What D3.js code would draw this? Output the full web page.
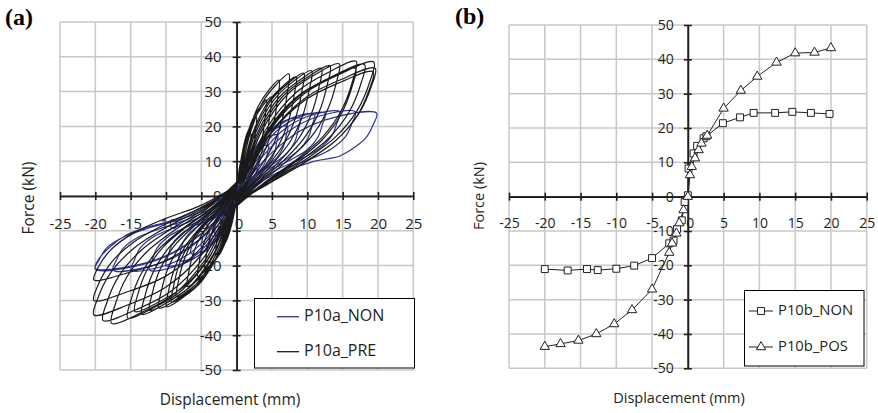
<!DOCTYPE html>
<html><head><meta charset="utf-8">
<script src="https://cdn.jsdelivr.net/npm/d3@7"></script>
<style>
body{margin:0;background:#fff}
svg{display:block}
text{font-family:"Open Sans",sans-serif;fill:#231f20}
</style>
</head><body>
<svg id="c" width="878" height="413"></svg>
<script>
// ---------- shared axis values ----------
const xTicks = [-25,-20,-15,-10,-5,0,5,10,15,20,25];
const yTicks = [-50,-40,-30,-20,-10,0,10,20,30,40,50];

// ---------- panel (a): hysteresis loops ----------
const seriesA = ["P10a_NON","P10a_PRE"];
// force (kN) where each cycle crosses zero displacement (loading up / loading down)
const pivUpNON = [0.5,0.8,1,1.2,1.5,1.5,1.8,2,2,2.2,2.2,2.5];
const pivDnNON = [-0.2,-0.4,-0.5,-0.6,-0.8,-1,-1,-1.2,-1.2,-1.4,-1.4,-1.5];
const pivUpPRE = [1,1.5,2,2,2.5,2.5,3,3,3,3.5,3.5,3.5,4,3.5,3.5,4,3.5,3,3];
const pivDnPRE = [0,-0.5,-0.5,-1,-1,-1.5,-1.5,-2,-2,-2,-2.5,-2.5,-2.5,-3,-2.5,-3,-2.5,-2,-2];
// each cycle: positive leaf (p: loading then unloading) and negative leaf (n)
const cyclesNON = [
 {p:[[.12,1.3],[.3,2.6],[.54,3.9],[.84,4.8],[1.2,5],[1.16,4.3],[1.1,3.6],[.96,2.8],[.74,2.2],[.48,1.6],[.26,.9]],
  n:[[-.12,-1.1],[-.3,-2.3],[-.54,-3.5],[-.84,-4.3],[-1.2,-4.5],[-1.16,-3.9],[-1.1,-3.2],[-.96,-2.5],[-.74,-2],[-.48,-1.4],[-.26,-.8]]},
 {p:[[.22,2.1],[.55,4.4],[.99,6.6],[1.54,8.1],[2.2,8.5],[2.13,7.3],[2.02,6],[1.76,4.8],[1.36,3.7],[.88,2.7],[.48,1.5]],
  n:[[-.23,-2],[-.58,-4.2],[-1.04,-6.2],[-1.61,-7.6],[-2.3,-8],[-2.23,-6.9],[-2.12,-5.7],[-1.84,-4.5],[-1.43,-3.5],[-.92,-2.6],[-.51,-1.4]]},
 {p:[[.33,2.9],[.83,6],[1.49,9],[2.31,10.9],[3.3,11.5],[3.2,9.9],[3.04,8.2],[2.64,6.4],[2.05,5.1],[1.32,3.7],[.73,2.1]],
  n:[[-.35,-2.9],[-.88,-6],[-1.58,-9],[-2.45,-10.9],[-3.5,-11.5],[-3.4,-9.9],[-3.22,-8.2],[-2.8,-6.4],[-2.17,-5.1],[-1.4,-3.7],[-.77,-2.1]]},
 {p:[[.45,3.6],[1.13,7.5],[2.03,11.3],[3.15,13.8],[4.5,14.5],[4.37,12.5],[4.14,10.3],[3.6,8.1],[2.79,6.4],[1.8,4.6],[.99,2.6]],
  n:[[-.5,-3.6],[-1.25,-7.5],[-2.25,-11.3],[-3.5,-13.8],[-5,-14.5],[-4.85,-12.5],[-4.6,-10.3],[-4,-8.1],[-3.1,-6.4],[-2,-4.6],[-1.1,-2.6]]},
 {p:[[.58,4.4],[1.45,9.1],[2.61,13.7],[4.06,16.6],[5.8,17.5],[5.63,15.1],[5.34,12.4],[4.64,9.8],[3.6,7.7],[2.32,5.6],[1.28,3.2]],
  n:[[-.65,-4.1],[-1.63,-8.6],[-2.93,-12.9],[-4.55,-15.7],[-6.5,-16.5],[-6.31,-14.2],[-5.98,-11.7],[-5.2,-9.2],[-4.03,-7.3],[-2.6,-5.3],[-1.43,-3]]},
 {p:[[.72,5],[1.8,10.4],[3.24,15.6],[5.04,19],[7.2,20],[6.98,17.2],[6.62,14.2],[5.76,11.2],[4.46,8.8],[2.88,6.4],[1.58,3.6]],
  n:[[-.82,-4.6],[-2.05,-9.6],[-3.69,-14.4],[-5.74,-17.6],[-8.2,-18.5],[-7.95,-15.9],[-7.54,-13.1],[-6.56,-10.4],[-5.08,-8.1],[-3.28,-5.9],[-1.8,-3.3]]},
 {p:[[.9,5.6],[2.25,11.6],[4.05,17.4],[6.3,21.2],[9,22.3],[8.73,19.2],[8.28,15.8],[7.2,12.5],[5.58,9.8],[3.6,7.1],[1.98,4]],
  n:[[-1,-5],[-2.5,-10.4],[-4.5,-15.6],[-7,-19],[-10,-20],[-9.7,-17.2],[-9.2,-14.2],[-8,-11.2],[-6.2,-8.8],[-4,-6.4],[-2.2,-3.6]]},
 {p:[[1.1,5.9],[2.75,12.2],[4.95,18.3],[7.7,22.3],[11,23.5],[10.67,20.2],[10.12,16.7],[8.8,13.2],[6.82,10.3],[4.4,7.5],[2.42,4.2]],
  n:[[-1.23,-5.3],[-3.08,-11.1],[-5.54,-16.6],[-8.61,-20.2],[-12.3,-21.3],[-11.93,-18.3],[-11.32,-15.1],[-9.84,-11.9],[-7.63,-9.4],[-4.92,-6.8],[-2.71,-3.8]]},
 {p:[[1.25,6],[3.13,12.4],[5.63,18.6],[8.75,22.6],[12.5,23.8],[12.13,20.5],[11.5,16.9],[10,13.3],[7.75,10.5],[5,7.6],[2.75,4.3]],
  n:[[-1.49,-5.3],[-3.73,-11.1],[-6.71,-16.6],[-10.43,-20.2],[-14.9,-21.3],[-14.45,-18.3],[-13.71,-15.1],[-11.92,-11.9],[-9.24,-9.4],[-5.96,-6.8],[-3.28,-3.8]]},
 {p:[[1.46,6.1],[3.65,12.6],[6.57,18.9],[10.22,23],[14.6,24.2],[14.16,20.8],[13.43,17.2],[11.68,13.6],[9.05,10.6],[5.84,7.7],[3.21,4.4]],
  n:[[-1.75,-5.3],[-4.38,-11.1],[-7.88,-16.6],[-12.25,-20.2],[-17.5,-21.3],[-16.98,-18.3],[-16.1,-15.1],[-14,-11.9],[-10.85,-9.4],[-7,-6.8],[-3.85,-3.8]]},
 {p:[[1.68,6.1],[4.2,12.6],[7.56,18.9],[11.76,23],[16.8,24.2],[16.3,20.8],[15.46,17.2],[13.44,13.6],[10.42,10.6],[6.72,7.7],[3.7,4.4]],
  n:[[-2,-5.3],[-5,-10.9],[-9,-16.4],[-14,-20],[-20,-21],[-19.4,-18.1],[-18.4,-14.9],[-16,-11.8],[-12.4,-9.2],[-8,-6.7],[-4.4,-3.8]]},
 {p:[[1.98,6],[4.95,12.4],[8.91,18.6],[13.86,22.6],[19.8,23.8],[19.3,20.4],[18.4,17],[16.5,13.7],[14.6,11.5],[13.2,10.8],[10.8,9.9],[7.5,7.5],[5.2,5.1],[3.3,2.7]],
  n:[[-2,-5.2],[-5,-10.8],[-9,-16.2],[-14,-19.8],[-20,-20.8],[-19.6,-18.4],[-17.9,-14.6],[-15.6,-11.2],[-13.2,-9.3],[-10.4,-7.8],[-7.5,-5.9],[-4.7,-3.1]]}
];
const cyclesPRE = [
 {p:[[.1,2.6],[.25,6],[.5,9.2],[.75,10.9],[1,12],[.97,10.2],[.88,7.7],[.72,5.3],[.5,3.2],[.25,1.3]],
  n:[[-.1,-1.8],[-.25,-4],[-.5,-6.2],[-.75,-7.3],[-1,-8],[-.97,-6.8],[-.88,-5.1],[-.72,-3.5],[-.5,-2.2],[-.25,-.9]]},
 {p:[[.2,4],[.5,9],[1,13.9],[1.5,16.4],[2,18],[1.94,15.3],[1.76,11.5],[1.44,7.9],[1,4.9],[.5,2]],
  n:[[-.2,-2.9],[-.5,-6.5],[-1,-10],[-1.5,-11.8],[-2,-13],[-1.94,-11.1],[-1.76,-8.3],[-1.44,-5.7],[-1,-3.5],[-.5,-1.4]]},
 {p:[[.28,5],[.7,11.4],[1.4,17.6],[2.1,20.7],[2.8,22.8],[2.72,19.4],[2.46,14.6],[2.02,10],[1.4,6.2],[.7,2.5]],
  n:[[-.3,-3.7],[-.75,-8.5],[-1.5,-13.1],[-2.25,-15.5],[-3,-17],[-2.91,-14.5],[-2.64,-10.9],[-2.16,-7.5],[-1.5,-4.6],[-.75,-1.9]]},
 {p:[[.42,6.1],[1.05,13.8],[2.1,21.3],[3.15,25.1],[4.2,27.6],[4.07,23.5],[3.7,17.7],[3.02,12.1],[2.1,7.5],[1.05,3]],
  n:[[-.45,-4.6],[-1.13,-10.5],[-2.25,-16.2],[-3.38,-19.1],[-4.5,-21],[-4.37,-17.9],[-3.96,-13.4],[-3.24,-9.2],[-2.25,-5.7],[-1.13,-2.3]]},
 {p:[[.49,6.3],[1.23,14.3],[2.45,21.9],[3.68,25.9],[4.9,28.5],[4.75,24.2],[4.31,18.2],[3.53,12.5],[2.45,7.7],[1.23,3.1]],
  n:[[-.55,-5.1],[-1.38,-11.5],[-2.75,-17.7],[-4.13,-20.9],[-5.5,-23],[-5.34,-19.6],[-4.84,-14.7],[-3.96,-10.1],[-2.75,-6.2],[-1.38,-2.5]]},
 {p:[[.6,7.3],[1.5,16.7],[3,25.6],[4.5,30.3],[6,33.3],[5.82,28.3],[5.28,21.3],[4.32,14.7],[3,9],[1.5,3.7]],
  n:[[-.7,-5.7],[-1.75,-13],[-3.5,-20],[-5.25,-23.7],[-7,-26],[-6.79,-22.1],[-6.16,-16.6],[-5.04,-11.4],[-3.5,-7],[-1.75,-2.9]]},
 {p:[[.74,7.7],[1.85,17.6],[3.7,27],[5.55,31.9],[7.4,35.1],[7.18,29.8],[6.51,22.5],[5.33,15.4],[3.7,9.5],[1.85,3.9]],
  n:[[-.85,-6.4],[-2.13,-14.5],[-4.25,-22.3],[-6.38,-26.4],[-8.5,-29],[-8.25,-24.7],[-7.48,-18.6],[-6.12,-12.8],[-4.25,-7.8],[-2.13,-3.2]]},
 {p:[[.84,7.5],[2.1,17.1],[4.2,26.3],[6.3,31.1],[8.4,34.2],[8.15,29.1],[7.39,21.9],[6.05,15],[4.2,9.2],[2.1,3.8]],
  n:[[-.92,-6.7],[-2.3,-15.3],[-4.6,-23.5],[-6.9,-27.8],[-9.2,-30.5],[-8.92,-25.9],[-8.1,-19.5],[-6.62,-13.4],[-4.6,-8.2],[-2.3,-3.4]]},
 {p:[[.95,7.8],[2.38,17.7],[4.75,27.2],[7.13,32.1],[9.5,35.3],[9.22,30],[8.36,22.6],[6.84,15.5],[4.75,9.5],[2.38,3.9]],
  n:[[-.99,-7],[-2.48,-15.9],[-4.95,-24.5],[-7.43,-28.9],[-9.9,-31.8],[-9.6,-27],[-8.71,-20.4],[-7.13,-14],[-4.95,-8.6],[-2.48,-3.5]]},
 {p:[[1.06,7.9],[2.65,18],[5.3,27.7],[7.95,32.8],[10.6,36],[10.28,30.6],[9.33,23],[7.63,15.8],[5.3,9.7],[2.65,4]],
  n:[[-1.1,-7.1],[-2.75,-16.1],[-5.5,-24.8],[-8.25,-29.3],[-11,-32.2],[-10.67,-27.4],[-9.68,-20.6],[-7.92,-14.2],[-5.5,-8.7],[-2.75,-3.5]]},
 {p:[[1.2,8.1],[3,18.4],[6,28.3],[9,33.4],[12,36.7],[11.64,31.2],[10.56,23.5],[8.64,16.1],[6,9.9],[3,4]],
  n:[[-1.23,-7.2],[-3.08,-16.4],[-6.15,-25.3],[-9.23,-29.8],[-12.3,-32.8],[-11.93,-27.9],[-10.82,-21],[-8.86,-14.4],[-6.15,-8.9],[-3.08,-3.6]]},
 {p:[[1.32,8.2],[3.3,18.7],[6.6,28.8],[9.9,34],[13.2,37.4],[12.8,31.8],[11.62,23.9],[9.5,16.5],[6.6,10.1],[3.3,4.1]],
  n:[[-1.34,-7.5],[-3.35,-17],[-6.7,-26.2],[-10.05,-30.9],[-13.4,-34],[-13,-28.9],[-11.79,-21.8],[-9.65,-15],[-6.7,-9.2],[-3.35,-3.7]]},
 {p:[[1.45,8.4],[3.63,19],[7.25,29.3],[10.88,34.6],[14.5,38],[14.07,32.3],[12.76,24.3],[10.44,16.7],[7.25,10.3],[3.63,4.2]],
  n:[[-1.44,-7.3],[-3.6,-16.6],[-7.2,-25.6],[-10.8,-30.2],[-14.4,-33.2],[-13.97,-28.2],[-12.67,-21.2],[-10.37,-14.6],[-7.2,-9],[-3.6,-3.7]]},
 {p:[[1.69,8.5],[4.23,19.4],[8.45,29.8],[12.68,35.2],[16.9,38.7],[16.39,32.9],[14.87,24.8],[12.17,17],[8.45,10.4],[4.23,4.3]],
  n:[[-1.54,-7.7],[-3.85,-17.6],[-7.7,-27],[-11.55,-31.9],[-15.4,-35.1],[-14.94,-29.8],[-13.55,-22.5],[-11.09,-15.4],[-7.7,-9.5],[-3.85,-3.9]]},
 {p:[[1.68,8.1],[4.2,18.4],[8.4,28.3],[12.6,33.4],[16.8,36.7],[16.3,31.2],[14.78,23.5],[12.1,16.1],[8.4,9.9],[4.2,4]],
  n:[[-1.77,-8.1],[-4.43,-18.3],[-8.85,-28.2],[-13.28,-33.3],[-17.7,-36.6],[-17.17,-31.1],[-15.58,-23.4],[-12.74,-16.1],[-8.85,-9.9],[-4.43,-4]]},
 {p:[[1.81,8.3],[4.53,18.9],[9.05,29.1],[13.58,34.4],[18.1,37.8],[17.56,32.1],[15.93,24.2],[13.03,16.6],[9.05,10.2],[4.53,4.2]],
  n:[[-1.89,-7.9],[-4.73,-17.9],[-9.45,-27.6],[-14.18,-32.6],[-18.9,-35.8],[-18.33,-30.4],[-16.63,-22.9],[-13.61,-15.8],[-9.45,-9.7],[-4.73,-3.9]]},
 {p:[[1.94,8.5],[4.85,19.3],[9.7,29.6],[14.55,35],[19.4,38.5],[18.82,32.7],[17.07,24.6],[13.97,16.9],[9.7,10.4],[4.85,4.2]],
  n:[[-2.02,-7.5],[-5.05,-17.1],[-10.1,-26.3],[-15.15,-31.1],[-20.2,-34.2],[-19.59,-29.1],[-17.78,-21.9],[-14.54,-15],[-10.1,-9.2],[-5.05,-3.8]]},
 {p:[[1.96,8.1],[4.9,18.4],[9.8,28.3],[14.7,33.4],[19.6,36.7],[19.01,31.2],[17.25,23.5],[14.11,16.1],[9.8,9.9],[4.9,4]],
  n:[[-2.02,-6.6],[-5.05,-15],[-10.1,-23.1],[-15.15,-27.3],[-20.2,-30],[-19.59,-25.5],[-17.78,-19.2],[-14.54,-13.2],[-10.1,-8.1],[-5.05,-3.3]]},
 {p:[[1.93,7.9],[4.83,17.9],[9.65,27.5],[14.48,32.5],[19.3,35.7],[18.72,30.3],[16.98,22.8],[13.9,15.7],[9.65,9.6],[4.83,3.9]],
  n:[[-2.02,-5.3],[-5.05,-12.1],[-10.1,-18.6],[-15.15,-21.9],[-20.2,-24.1],[-19.59,-20.5],[-17.78,-15.4],[-14.54,-10.6],[-10.1,-6.5],[-5.05,-2.7]]}
];

// ---------- panel (b): envelope curves ----------
const seriesB = ["P10b_NON","P10b_POS"];
const envNON = [[-20.0,-21.1],[-16.8,-21.5],[-14.1,-21.1],[-12.6,-21.4],[-10.0,-21.0],[-7.5,-20.1],[-5.0,-17.9],
 [-2.6,-13.6],[-2.0,-12.8],[-1.5,-9.4],[-0.85,-6.9],[-0.45,-1.6],[0,0.4],[0.1,8.2],[0.8,12.6],[1.3,14.8],
 [2.2,17.0],[2.6,17.6],[4.9,21.4],[7.3,23.1],[9.2,24.4],[12.2,24.4],[14.6,24.7],[17.2,24.4],[19.8,24.1]];
const envPOS = [[-20.0,-43.7],[-17.8,-42.9],[-15.3,-41.9],[-12.8,-40.0],[-10.3,-37.1],[-7.8,-33.0],[-5.0,-27.0],
 [-2.6,-16.3],[-2.2,-13.6],[-1.6,-10.7],[-1.2,-7.7],[-0.6,-3.9],[0,0],[0.3,6.3],[0.55,8.7],[1.0,11.2],
 [1.5,13.6],[1.9,15.5],[2.7,17.8],[5.0,25.7],[7.4,30.9],[9.7,35.0],[12.4,39.1],[15.0,41.8],[17.7,42.0],[20.0,43.3]];

const blue = "#2e3192", ink = "#231f20", gridC = "#c8c8c8";
const svg = d3.select("#c");

function panel(o){
  const g = svg.append("g");
  const x = d3.scaleLinear().domain([-25,25]).range(o.xr);
  const y = d3.scaleLinear().domain([-50,50]).range(o.yr);
  g.append("g").selectAll("line").data(xTicks).join("line")
    .attr("x1",d=>x(d)).attr("x2",d=>x(d)).attr("y1",y(50)).attr("y2",y(-50))
    .attr("stroke",gridC).attr("stroke-width",1.5);
  g.append("g").selectAll("line").data(yTicks).join("line")
    .attr("y1",d=>y(d)).attr("y2",d=>y(d)).attr("x1",x(-25)).attr("x2",x(25))
    .attr("stroke",gridC).attr("stroke-width",1.5);
  const ax = g.append("g").attr("transform",`translate(0,${y(0)})`)
    .call(d3.axisBottom(x).tickValues(xTicks).tickSizeInner(4).tickSizeOuter(0).tickPadding(o.xpad).tickFormat(d=>d));
  g.append("g").attr("transform",`translate(0,${y(0)})`)
    .call(d3.axisTop(x).tickValues(xTicks).tickSizeInner(4).tickSizeOuter(0).tickFormat(""));
  g.append("g").attr("transform",`translate(${x(0)},0)`)
    .call(d3.axisLeft(y).tickValues(yTicks).tickSizeInner(4).tickSizeOuter(0).tickPadding(o.ypad).tickFormat(d=>d));
  g.append("g").attr("transform",`translate(${x(0)},0)`)
    .call(d3.axisRight(y).tickValues(yTicks).tickSizeInner(4).tickSizeOuter(0).tickFormat(""));
  g.selectAll(".domain").attr("stroke",ink).attr("stroke-width",1.6);
  g.selectAll(".tick line").attr("stroke",ink).attr("stroke-width",1.6);
  g.selectAll(".tick text").attr("font-size",o.fs).attr("fill",ink);
  ax.selectAll(".tick text").filter(d=>d===0).attr("dx",2);
  g.append("text").attr("x",o.xl[0]).attr("y",o.xl[1]).attr("text-anchor","middle")
    .attr("dominant-baseline","middle").attr("font-size",o.lfs).text("Displacement (mm)");
  g.append("text").attr("transform",`translate(${o.yl[0]},${o.yl[1]}) rotate(-90)`).attr("text-anchor","middle")
    .attr("dominant-baseline","middle").attr("font-size",o.lfs).text("Force (kN)");
  g.append("text").attr("x",o.tag[0]).attr("y",o.tag[1])
    .style("font-family","'Liberation Serif','DejaVu Serif',serif").style("fill","#000")
    .attr("font-weight","bold").attr("font-size",24).text(o.tagText);
  return {g,x,y};
}

// ----- panel a -----
const A = panel({xr:[60,413.3], yr:[370,22], fs:15, lfs:15.5, xpad:18, ypad:11,
  xl:[230,401], yl:[30,198], tag:[5,25], tagText:"(a)"});
const loopPath = (cycles,up,dn)=>cycles.flatMap((c,i)=>[[0,up[i]],...c.p,[0,dn[i]],...c.n]).concat([[0,up[up.length-1]]]);
const lineA = d3.line().x(d=>A.x(d[0])).y(d=>A.y(d[1])).curve(d3.curveCatmullRom.alpha(0.5));
A.g.append("path").datum(loopPath(cyclesNON,pivUpNON,pivDnNON)).attr("d",lineA)
  .attr("fill","none").attr("stroke",blue).attr("stroke-width",1.2).attr("stroke-linejoin","round");
A.g.append("path").datum(loopPath(cyclesPRE,pivUpPRE,pivDnPRE)).attr("d",lineA)
  .attr("fill","none").attr("stroke","#1a1a1a").attr("stroke-width",1.2).attr("stroke-linejoin","round");
const LA = A.g.append("g");
LA.append("rect").attr("x",254.5).attr("y",298.5).attr("width",160).attr("height",69.5)
  .attr("fill","#fff").attr("stroke","#000").attr("stroke-width",1);
[[seriesA[0],blue,316.7],[seriesA[1],"#1a1a1a",351.7]].forEach(([t,c,yy])=>{
  LA.append("line").attr("x1",277).attr("x2",299).attr("y1",yy).attr("y2",yy).attr("stroke",c).attr("stroke-width",1.3);
  LA.append("text").attr("x",304).attr("y",yy).attr("dominant-baseline","middle").attr("font-size",16).text(t);
});

// ----- panel b -----
const B = panel({xr:[509,866.7], yr:[368.3,25], fs:14, lfs:14.5, xpad:17, ypad:10,
  xl:[679,399], yl:[480,196], tag:[455,24], tagText:"(b)"});
const lineB = d3.line().x(d=>B.x(d[0])).y(d=>B.y(d[1]));
B.g.append("path").datum(envNON).attr("d",lineB).attr("fill","none").attr("stroke",ink).attr("stroke-width",1);
B.g.append("path").datum(envPOS).attr("d",lineB).attr("fill","none").attr("stroke",ink).attr("stroke-width",1);
const sq = d3.symbol(d3.symbolSquare,48), tri = d3.symbol(d3.symbolTriangle,38);
B.g.append("g").selectAll("path").data(envNON).join("path").attr("d",sq)
  .attr("transform",d=>`translate(${B.x(d[0])},${B.y(d[1])})`).attr("fill","#fff").attr("stroke",ink).attr("stroke-width",1);
B.g.append("g").selectAll("path").data(envPOS).join("path").attr("d",tri)
  .attr("transform",d=>`translate(${B.x(d[0])},${B.y(d[1])})`).attr("fill","#fff").attr("stroke",ink).attr("stroke-width",1);
const LB = B.g.append("g");
LB.append("rect").attr("x",744.5).attr("y",290.5).attr("width",119.5).attr("height",75.5)
  .attr("fill","#fff").attr("stroke","#000").attr("stroke-width",1);
[[seriesB[0],sq,311],[seriesB[1],tri,347]].forEach(([t,s,yy])=>{
  LB.append("line").attr("x1",749).attr("x2",773).attr("y1",yy).attr("y2",yy).attr("stroke",ink).attr("stroke-width",1);
  LB.append("path").attr("d",s).attr("transform",`translate(761,${yy})`).attr("fill","#fff").attr("stroke",ink);
  LB.append("text").attr("x",778).attr("y",yy).attr("dominant-baseline","middle").attr("font-size",14.8).text(t);
});
</script>
</body></html>
